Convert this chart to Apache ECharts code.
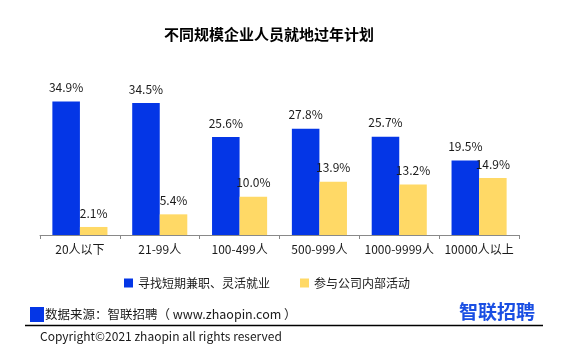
<!DOCTYPE html>
<html>
<head>
<meta charset="utf-8">
<script src="https://cdn.jsdelivr.net/npm/echarts@6/dist/echarts.min.js"></script>
<style>
  html, body { margin: 0; padding: 0; background: #fff; }
  #chart { width: 561px; height: 353px; }
</style>
</head>
<body>
<div id="chart"></div>
<script>
const categories = ['20人以下', '21-99人', '100-499人', '500-999人', '1000-9999人', '10000人以上']
const seriesNames = ['寻找短期兼职、灵活就业', '参与公司内部活动']
const partTimeValues = [34.9, 34.5, 25.6, 27.8, 25.7, 19.5]
const internalValues = [2.1, 5.4, 10.0, 13.9, 13.2, 14.9]

const font = '"Noto Sans CJK SC", "Noto Sans", sans-serif'
const blue = '#0436E6'
const yellow = '#FFD966'

const chart = echarts.init(document.getElementById('chart'))

function barSeries(name, values, color) {
  return {
    name: name,
    type: 'bar',
    data: values,
    barGap: '0%',
    barCategoryGap: '31%',
    itemStyle: { color: color },
    label: {
      show: true,
      position: 'top',
      distance: 8,
      color: '#1a1a1a',
      fontFamily: font,
      fontSize: 12,
      formatter: (p) => p.value.toFixed(1) + '%'
    }
  }
}

chart.setOption({
  animation: false,
  title: {
    text: '不同规模企业人员就地过年计划',
    left: 264,
    textAlign: 'center',
    top: 22,
    textStyle: {
      fontFamily: font,
      fontSize: 15,
      fontWeight: 'bold',
      color: '#000'
    }
  },
  grid: {
    left: 40,
    right: 42,
    top: 82,
    bottom: 118
  },
  legend: {
    data: seriesNames,
    left: 119,
    top: 272,
    itemWidth: 9,
    itemHeight: 9,
    itemGap: 30,
    icon: 'rect',
    textStyle: {
      fontFamily: font,
      fontSize: 12,
      color: '#1a1a1a'
    }
  },
  xAxis: {
    type: 'category',
    data: categories,
    axisLine: { lineStyle: { color: '#898989', width: 1 } },
    axisTick: { show: true, length: 4, lineStyle: { color: '#898989' } },
    axisLabel: {
      margin: 8,
      interval: 0,
      fontFamily: font,
      fontSize: 12,
      color: '#1a1a1a'
    }
  },
  yAxis: {
    type: 'value',
    min: 0,
    max: 40,
    show: false,
    splitLine: { show: false }
  },
  series: [
    barSeries(seriesNames[0], partTimeValues, blue),
    barSeries(seriesNames[1], internalValues, yellow)
  ],
  graphic: [
    {
      type: 'rect',
      shape: { x: 30, y: 307, width: 14, height: 15 },
      style: { fill: blue }
    },
    {
      type: 'text',
      x: 45,
      y: 314,
      style: {
        text: '数据来源：智联招聘（ www.zhaopin.com ）',
        fontFamily: font,
        fontSize: 12.5,
        fill: '#1a1a1a',
        verticalAlign: 'middle'
      }
    },
    {
      type: 'text',
      x: 535,
      y: 312,
      style: {
        text: '智联招聘',
        fontFamily: font,
        fontSize: 19,
        fontWeight: 'bold',
        fill: '#1A4FE3',
        align: 'right',
        verticalAlign: 'middle'
      }
    },
    {
      type: 'line',
      shape: { x1: 25, y1: 325.5, x2: 543, y2: 325.5 },
      style: { stroke: '#000', lineWidth: 1.5 }
    },
    {
      type: 'text',
      x: 40,
      y: 336,
      style: {
        text: 'Copyright©2021 zhaopin all rights reserved',
        fontFamily: font,
        fontSize: 12,
        fill: '#1a1a1a',
        verticalAlign: 'middle'
      }
    }
  ]
})
</script>
</body>
</html>
